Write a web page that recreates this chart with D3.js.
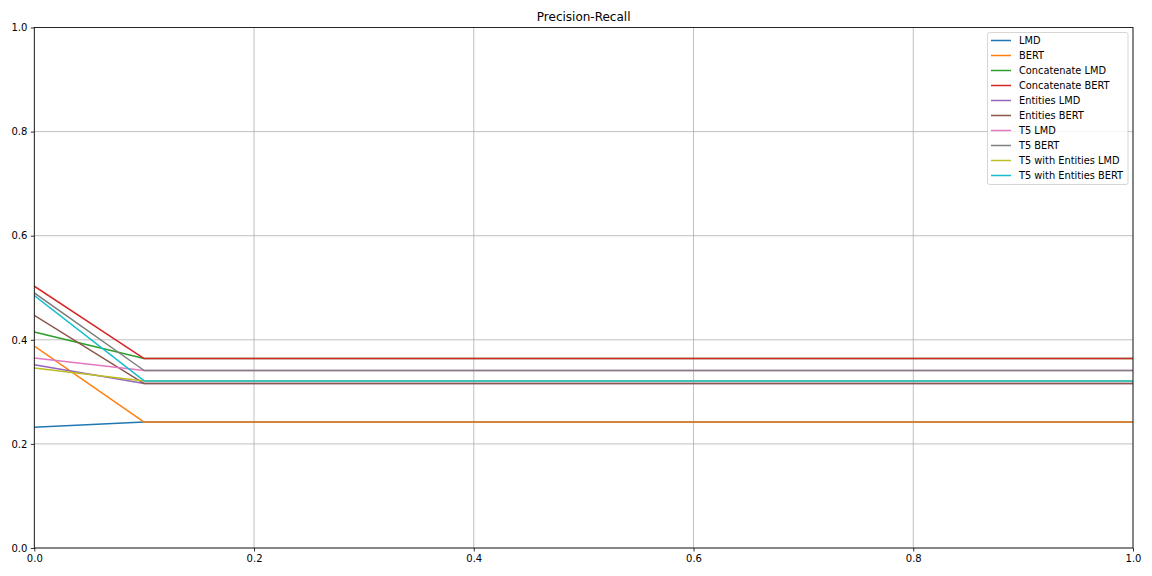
<!DOCTYPE html>
<html>
<head>
<meta charset="utf-8">
<script src="https://cdn.jsdelivr.net/npm/d3@7"></script>
<style>
  body { margin: 0; background: #fff; }
  svg { display: block; font-family: "DejaVu Sans", sans-serif; }
</style>
</head>
<body>
<svg id="chart" width="1152" height="576"></svg>
<script>
const recall = [0, 0.1, 0.2, 0.3, 0.4, 0.5, 0.6, 0.7, 0.8, 0.9, 1.0];
const seriesNames = ["LMD", "BERT", "Concatenate LMD", "Concatenate BERT", "Entities LMD",
  "Entities BERT", "T5 LMD", "T5 BERT", "T5 with Entities LMD", "T5 with Entities BERT"];
const lmd = [0.232, 0.242, 0.242, 0.242, 0.242, 0.242, 0.242, 0.242, 0.242, 0.242, 0.242];
const bert = [0.388, 0.242, 0.242, 0.242, 0.242, 0.242, 0.242, 0.242, 0.242, 0.242, 0.242];
const concatLmd = [0.415, 0.364, 0.364, 0.364, 0.364, 0.364, 0.364, 0.364, 0.364, 0.364, 0.364];
const concatBert = [0.503, 0.364, 0.364, 0.364, 0.364, 0.364, 0.364, 0.364, 0.364, 0.364, 0.364];
const entitiesLmd = [0.352, 0.316, 0.316, 0.316, 0.316, 0.316, 0.316, 0.316, 0.316, 0.316, 0.316];
const entitiesBert = [0.447, 0.316, 0.316, 0.316, 0.316, 0.316, 0.316, 0.316, 0.316, 0.316, 0.316];
const t5Lmd = [0.365, 0.341, 0.341, 0.341, 0.341, 0.341, 0.341, 0.341, 0.341, 0.341, 0.341];
const t5Bert = [0.490, 0.341, 0.341, 0.341, 0.341, 0.341, 0.341, 0.341, 0.341, 0.341, 0.341];
const t5EntLmd = [0.346, 0.321, 0.321, 0.321, 0.321, 0.321, 0.321, 0.321, 0.321, 0.321, 0.321];
const t5EntBert = [0.485, 0.321, 0.321, 0.321, 0.321, 0.321, 0.321, 0.321, 0.321, 0.321, 0.321];
const seriesValues = [lmd, bert, concatLmd, concatBert, entitiesLmd, entitiesBert, t5Lmd, t5Bert, t5EntLmd, t5EntBert];
const colors = ["#1f77b4", "#ff7f0e", "#2ca02c", "#d62728", "#9467bd", "#8c564b", "#e377c2", "#7f7f7f", "#bcbd22", "#17becf"];
const xTicks = [0, 0.2, 0.4, 0.6, 0.8, 1.0];
const yTicks = [0, 0.2, 0.4, 0.6, 0.8, 1.0];
const title = "Precision-Recall";

const svg = d3.select("#chart");
const L = 34.3, R = 1133, T = 27.5, B = 548;
const x = d3.scaleLinear().domain([0, 1]).range([L, R]);
const y = d3.scaleLinear().domain([0, 1]).range([B, T]);

svg.append("rect").attr("width", 1152).attr("height", 576).attr("fill", "#fff");

// grid
const g = svg.append("g");
g.selectAll("line.gx").data(xTicks).join("line")
  .attr("x1", d => x(d)).attr("x2", d => x(d)).attr("y1", T).attr("y2", B)
  .attr("stroke", "#b0b0b0").attr("stroke-width", 0.8);
g.selectAll("line.gy").data(yTicks).join("line")
  .attr("y1", d => y(d)).attr("y2", d => y(d)).attr("x1", L).attr("x2", R)
  .attr("stroke", "#b0b0b0").attr("stroke-width", 0.8);

// lines
const line = d3.line().x((d, i) => x(recall[i])).y(d => y(d));
svg.append("defs").append("clipPath").attr("id", "clip")
  .append("rect").attr("x", L).attr("y", T).attr("width", R - L).attr("height", B - T);
const lg = svg.append("g").attr("clip-path", "url(#clip)");
seriesValues.forEach((vals, i) => {
  lg.append("path").datum(vals).attr("d", line)
    .attr("fill", "none").attr("stroke", colors[i]).attr("stroke-width", 1.5)
    .attr("stroke-linejoin", "round").attr("stroke-linecap", "square");
});

// axes
const xAxis = d3.axisBottom(x).tickValues(xTicks).tickFormat(d3.format(".1f")).tickSize(3.5).tickPadding(3.5);
const yAxis = d3.axisLeft(y).tickValues(yTicks).tickFormat(d3.format(".1f")).tickSize(3.5).tickPadding(3.5);
const xa = svg.append("g").attr("transform", `translate(0,${B})`).call(xAxis);
const ya = svg.append("g").attr("transform", `translate(${L},0)`).call(yAxis);
[xa, ya].forEach(a => {
  a.select(".domain").remove();
  a.selectAll("text").attr("font-size", 10).attr("fill", "#000").attr("font-family", "DejaVu Sans");
  a.selectAll("line").attr("stroke", "#000").attr("stroke-width", 0.8);
});

// spines
svg.append("rect").attr("x", L).attr("y", T).attr("width", R - L).attr("height", B - T)
  .attr("fill", "none").attr("stroke", "#000").attr("stroke-width", 0.8);

// title
svg.append("text").attr("x", (L + R) / 2).attr("y", 21).attr("text-anchor", "middle")
  .attr("font-size", 12).attr("fill", "#000").text(title);

// legend
const legX = 987.5, legY = 32.5, legW = 140.5, legH = 152;
svg.append("rect").attr("x", legX).attr("y", legY).attr("width", legW).attr("height", legH)
  .attr("rx", 2).attr("fill", "#fff").attr("fill-opacity", 0.8)
  .attr("stroke", "#cccccc").attr("stroke-width", 0.8);
seriesNames.forEach((name, i) => {
  const cy = 40.5 + i * 15;
  svg.append("line").attr("x1", 991).attr("x2", 1011).attr("y1", cy).attr("y2", cy)
    .attr("stroke", colors[i]).attr("stroke-width", 1.5);
  svg.append("text").attr("x", 1019).attr("y", cy + 3.6).attr("font-size", 9.8)
    .attr("fill", "#000").text(name);
});
</script>
</body>
</html>
